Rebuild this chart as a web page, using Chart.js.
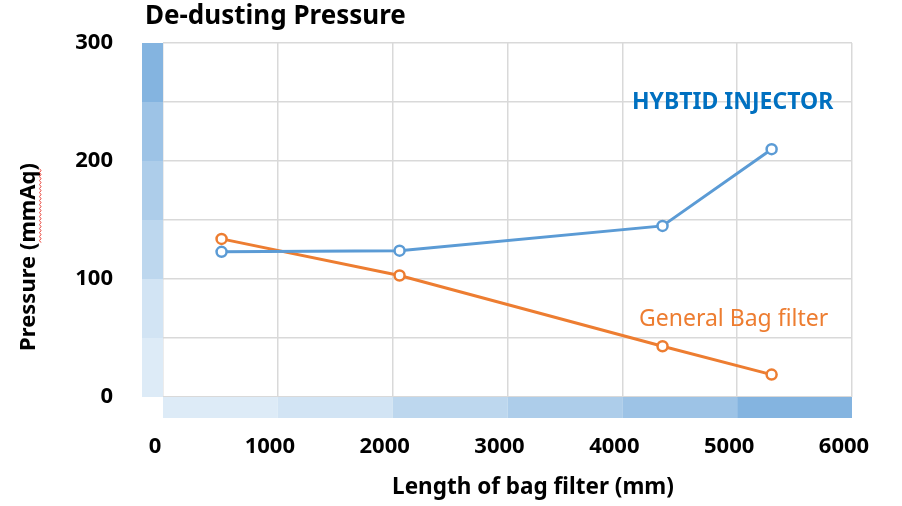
<!DOCTYPE html>
<html lang="en">
<head>
  <meta charset="UTF-8">
  <title>De-dusting Pressure</title>
  <style>
    body {
      margin: 0;
      background: white;
    }
    .wrap {
      position: relative;
      width: 902px;
      height: 506px;
    }
  </style>
</head>
<body>
  <div class="wrap">
    <canvas id="chart" width="902" height="506"></canvas>
  </div>

  <script src="https://cdn.jsdelivr.net/npm/chart.js"></script>
  <script>
    // Data
    const lengths = [510, 2060, 4350, 5300];            // mm
    const hybridInjector = [123, 124, 145, 210];        // mmAq
    const generalBagFilter = [134, 103, 43, 19];        // mmAq
    const xTicks = [0, 1000, 2000, 3000, 4000, 5000, 6000];
    const yTicks = [0, 50, 100, 150, 200, 250, 300];
    const yLabelled = [0, 100, 200, 300];

    // band shades, light -> dark
    const bandColors = ['#DDEBF7', '#D2E4F4', '#BDD7EE', '#ADCDEA', '#9DC3E6', '#84B4E0'];

    const font = "'Noto Sans', 'Open Sans', sans-serif";

    // left and bottom shaded bands, laid out from the scales
    const bandPlugin = {
      id: 'bands',
      beforeDatasetsDraw(chart) {
        const c = chart.ctx;
        const xs = chart.scales.x, ys = chart.scales.y;
        const area = chart.chartArea;
        c.save();
        for (let i = 0; i < xTicks.length - 1; i++) {
          const x0 = xs.getPixelForValue(xTicks[i]);
          const x1 = xs.getPixelForValue(xTicks[i + 1]);
          c.fillStyle = bandColors[i];
          c.fillRect(x0, area.bottom, x1 - x0, 21);
        }
        for (let i = 0; i < yTicks.length - 1; i++) {
          const y0 = ys.getPixelForValue(yTicks[i]);
          const y1 = ys.getPixelForValue(yTicks[i + 1]);
          c.fillStyle = bandColors[i];
          c.fillRect(area.left - 21, y1, 21, y0 - y1);
        }
        c.restore();
      },
      afterDraw(chart) {
        const c = chart.ctx;
        c.save();
        c.textBaseline = 'middle';

        c.fillStyle = '#000';
        c.font = 'bold 26px ' + font;
        c.textAlign = 'left';
        c.fillText('De-dusting Pressure', 145, 17);

        c.font = 'bold 22.5px ' + font;
        c.textAlign = 'center';
        c.fillText('Length of bag filter (mm)', 533, 488);

        c.save();
        c.font = 'bold 22px ' + font;
        c.translate(29, 257);
        c.rotate(-Math.PI / 2);
        const full = c.measureText('Pressure (mmAq)').width;
        const unit = c.measureText('mmAq)').width;
        c.fillText('Pressure (mmAq)', 0, 0);
        // red spell-check squiggle under "mmAq"
        c.strokeStyle = '#E8443A';
        c.lineWidth = 1;
        c.beginPath();
        let sx = full / 2 - unit;
        const ex = full / 2 - c.measureText(')').width;
        let up = true;
        c.moveTo(sx, 12);
        while (sx < ex) {
          sx += 2;
          c.lineTo(sx, up ? 10.5 : 12);
          up = !up;
        }
        c.stroke();
        c.restore();

        c.fillStyle = '#0070C0';
        c.font = 'bold 23px ' + font;
        c.textAlign = 'left';
        c.fillText('HYBTID INJECTOR', 632, 102);

        c.fillStyle = '#ED7D31';
        c.font = '23px ' + font;
        c.fillText('General Bag filter', 639, 319);
        c.restore();
      }
    };

    const ctx = document.getElementById('chart').getContext('2d');
    new Chart(ctx, {
      type: 'line',
      data: {
        datasets: [{
          label: 'HYBTID INJECTOR',
          data: lengths.map((x, i) => ({ x: x, y: hybridInjector[i] })),
          borderColor: '#5B9BD5',
          backgroundColor: '#ffffff',
          borderWidth: 3,
          pointRadius: 5,
          pointBorderWidth: 2.5,
          pointBackgroundColor: '#ffffff',
          pointBorderColor: '#5B9BD5',
          tension: 0
        }, {
          label: 'General Bag filter',
          data: lengths.map((x, i) => ({ x: x, y: generalBagFilter[i] })),
          borderColor: '#ED7D31',
          backgroundColor: '#ffffff',
          borderWidth: 3,
          pointRadius: 5,
          pointBorderWidth: 2.5,
          pointBackgroundColor: '#ffffff',
          pointBorderColor: '#ED7D31',
          tension: 0
        }]
      },
      options: {
        responsive: false,
        animation: false,
        layout: { padding: { top: 43, right: 50, left: 0, bottom: 0 } },
        plugins: {
          legend: { display: false },
          tooltip: { enabled: false }
        },
        scales: {
          x: {
            type: 'linear',
            min: 0,
            max: 6000,
            afterFit: s => {
              s.height = 109;
              s.paddingLeft = 0;
              s.paddingRight = 0;
            },
            afterBuildTicks: s => { s.ticks = xTicks.map(v => ({ value: v })); },
            grid: { color: '#D9D9D9', lineWidth: 1.5, drawTicks: false },
            border: { display: false },
            ticks: {
              padding: 37,
              labelOffset: -8,
              color: '#000',
              font: { family: font, size: 22, weight: 'bold' },
              callback: v => String(v)
            }
          },
          y: {
            min: 0,
            max: 300,
            afterFit: s => {
              s.width = 163;
              s.paddingTop = 0;
              s.paddingBottom = 0;
            },
            afterBuildTicks: s => { s.ticks = yTicks.map(v => ({ value: v })); },
            grid: { color: '#D9D9D9', lineWidth: 1.5, drawTicks: false },
            border: { display: false },
            ticks: {
              padding: 50,
              color: '#000',
              font: { family: font, size: 22, weight: 'bold' },
              callback: v => yLabelled.includes(v) ? String(v) : ''
            }
          }
        }
      },
      plugins: [bandPlugin]
    });
  </script>
</body>
</html>
